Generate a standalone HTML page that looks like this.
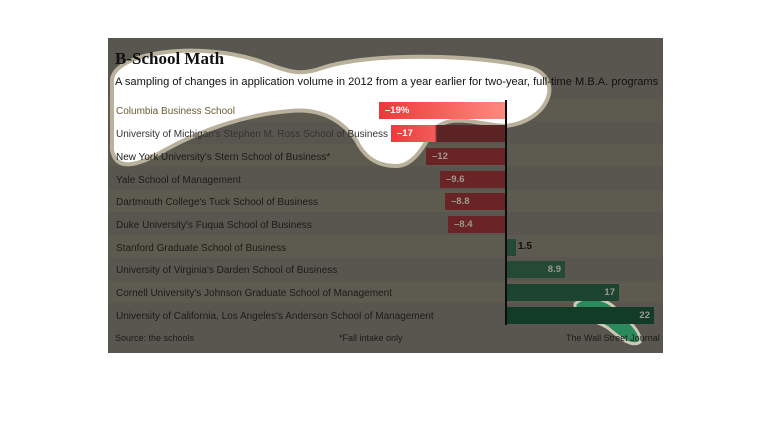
<!DOCTYPE html>
<html><head><style>
body{margin:0;width:770px;height:448px;background:#fff;position:relative;overflow:hidden;font-family:"Liberation Sans",sans-serif}
#p{position:absolute;left:108px;top:38px;width:555px;height:315px;background:#58564f}
.row{position:absolute;left:108px;width:555px;height:22px}
.t{position:absolute;white-space:nowrap}
.lab{position:absolute;left:116px;font-size:10px;color:#1c1b18;white-space:nowrap}
.bar{position:absolute;height:17px;font-size:9.5px;font-weight:bold;color:#9c9890;text-align:right;line-height:17px;box-sizing:border-box;padding-right:4px}
</style></head><body>
<div id="p"></div>
<div class="row" style="top:99px;background:#5d5a50"></div>
<div class="row" style="top:144px;background:#5d5a50"></div>
<div class="row" style="top:190px;background:#5d5a50"></div>
<div class="row" style="top:235px;background:#5d5a50"></div>
<div class="row" style="top:281px;background:#5d5a50"></div>
<svg style="position:absolute;left:0;top:0" width="770" height="448">
<path d="M112,82 C110,52 200,40 262,62 C290,72 300,76 322,68 C370,52 480,54 532,68 C565,80 548,122 505,126 C475,124 448,112 432,132 C422,150 412,166 396,166 C372,166 362,152 356,140 C340,118 318,108 290,111 C250,114 205,128 165,150 C138,166 116,172 112,150 Z" fill="#fff" stroke="#b9b19c" stroke-width="4"/>
<path d="M575,304 C585,294 605,298 615,308 C628,320 642,332 640,342 C632,348 620,338 608,328 C596,320 574,318 575,304 Z" fill="#2b8a5c" stroke="#cfc8b4" stroke-width="3"/>
</svg>
<div class="t" style="left:115px;top:49px;font-family:'Liberation Serif',serif;font-weight:bold;font-size:17px;color:#111">B-School Math</div>
<div class="t" style="left:115px;top:76px;font-size:11.1px;color:#111">A sampling of changes in application volume in 2012 from a year earlier for two-year, full-time M.B.A. programs</div>
<div class="lab" style="top:106px;color:#6b5a35">Columbia Business School</div>
<div class="lab" style="top:129px;color:#333">University of Michigan's Stephen M. Ross School of Business</div>
<div class="lab" style="top:152px">New York University's Stern School of Business*</div>
<div class="lab" style="top:175px">Yale School of Management</div>
<div class="lab" style="top:197px">Dartmouth College's Tuck School of Business</div>
<div class="lab" style="top:220px">Duke University's Fuqua School of Business</div>
<div class="lab" style="top:243px">Stanford Graduate School of Business</div>
<div class="lab" style="top:265px">University of Virginia's Darden School of Business</div>
<div class="lab" style="top:288px">Cornell University's Johnson Graduate School of Management</div>
<div class="lab" style="top:311px">University of California, Los Angeles's Anderson School of Management</div>
<div class="bar" style="left:379px;width:127px;top:102px;background:linear-gradient(90deg,#ee3838,#ff8a80);color:#fff;text-align:left;padding-left:6px">–19%</div>
<div class="bar" style="left:391px;width:115px;top:125px;background:linear-gradient(90deg,#ee3a3a 0,#f45a5a 38%,#5c2424 40%);color:#fff;text-align:left;padding-left:6px">–17</div>
<div class="bar" style="left:426px;width:80px;top:148px;background:#6b2426;text-align:left;padding-left:6px">–12</div>
<div class="bar" style="left:440px;width:66px;top:171px;background:#6b2426;text-align:left;padding-left:6px">–9.6</div>
<div class="bar" style="left:445px;width:61px;top:193px;background:#6b2426;text-align:left;padding-left:6px">–8.8</div>
<div class="bar" style="left:448px;width:58px;top:216px;background:#6b2426;text-align:left;padding-left:6px">–8.4</div>
<div class="bar" style="left:506px;width:10px;top:239px;background:#244a36"></div>
<div class="t" style="left:518px;top:241px;font-size:10px;font-weight:bold;color:#111">1.5</div>
<div class="bar" style="left:506px;width:59px;top:261px;background:#244a36">8.9</div>
<div class="bar" style="left:506px;width:113px;top:284px;background:#1c4430">17</div>
<div class="bar" style="left:506px;width:148px;top:307px;background:#123c28">22</div>
<div style="position:absolute;left:505px;top:100px;width:2px;height:225px;background:#0c0c0c"></div>
<div class="t" style="left:115px;top:333px;font-size:9px;color:#1c1b18">Source: the schools</div>
<div class="t" style="left:339px;top:333px;font-size:9px;color:#1c1b18">*Fall intake only</div>
<div class="t" style="left:566px;top:333px;font-size:9px;color:#1c1b18">The Wall Street Journal</div>
</body></html>
